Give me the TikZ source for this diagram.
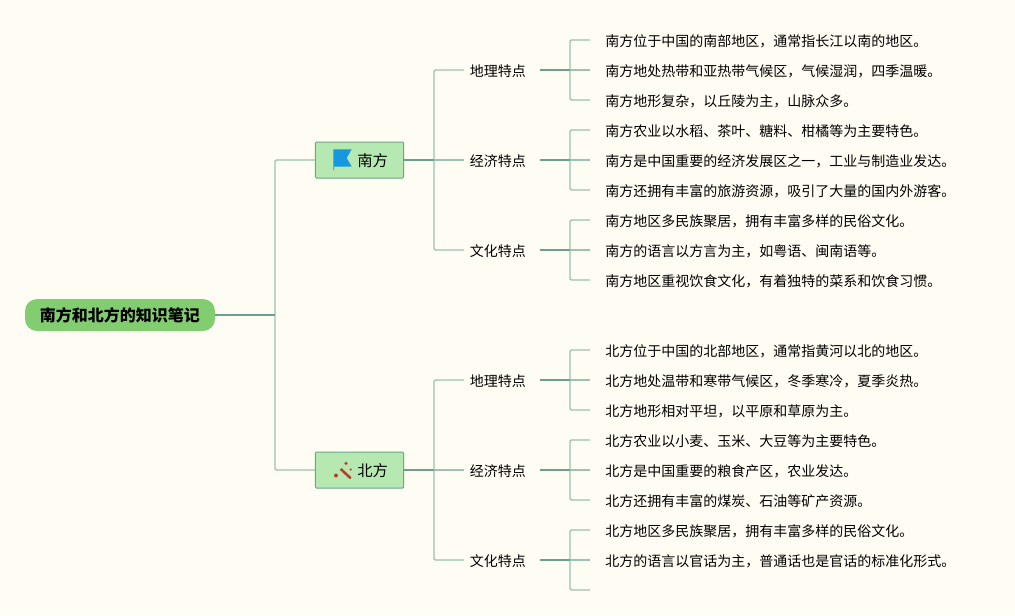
\documentclass[tikz,border=0pt]{standalone}
\usepackage{fontspec}
\setmainfont{Noto Sans CJK SC}
\definecolor{paper}{RGB}{255,253,243}
\definecolor{rootfill}{RGB}{130,205,112}
\definecolor{topicfill}{RGB}{182,232,178}
\definecolor{topicline}{RGB}{104,165,138}
\definecolor{softline}{RGB}{155,196,176}
\definecolor{darkline}{RGB}{108,160,142}
\definecolor{flagblue}{RGB}{22,152,224}
\definecolor{wandred}{RGB}{192,57,36}
\tikzset{
  rootbox/.style={fill=rootfill,rounded corners=9pt,minimum width=142.5pt,minimum height=24pt,inner sep=0pt,text height=11.4pt,text depth=1.4pt,font=\fontsize{12}{14}\selectfont\bfseries},
  topicbox/.style={fill=topicfill,draw=topicline,line width=0.75pt,rounded corners=0.8pt,text width=42.75pt,align=right,inner xsep=11.7pt,minimum height=27pt,inner ysep=0pt,text height=11.6pt,text depth=1.4pt,font=\fontsize{11.5}{14}\selectfont},
  subbox/.style={anchor=west,text width=48pt,align=left,inner xsep=4.2pt,inner ysep=2pt,text height=10.6pt,text depth=1.2pt,font=\fontsize{10.5}{13}\selectfont},
  leafbox/.style={anchor=west,inner xsep=11.25pt,inner ysep=2pt,text height=10.6pt,text depth=1.2pt,font=\fontsize{10.5}{13}\selectfont},
  softlink/.style={draw=softline,line width=1.1pt,rounded corners=1pt},
  darklink/.style={draw=darkline,line width=1.3pt},
}
\begin{document}
\begin{tikzpicture}[x=0.75pt,y=0.75pt,yscale=-1,xscale=1]
\fill[paper] (0,0) rectangle (1015,615);
\useasboundingbox (0,0) rectangle (1015,615);

% Root and topics
\node[rootbox] (root) at (120,315) {南方和北方的知识笔记};
\node[topicbox] (south) at (359.5,160) {南方};
\node[topicbox] (north) at (359.5,470) {北方};

% South, sub topics
\node[subbox] (sgeo) at (464,70) {地理特点};
\node[subbox] (seco) at (464,160) {经济特点};
\node[subbox] (scul) at (464,250) {文化特点};
% North, sub topics
\node[subbox] (ngeo) at (464,380) {地理特点};
\node[subbox] (neco) at (464,470) {经济特点};
\node[subbox] (ncul) at (464,560) {文化特点};

% South, leaves
\node[leafbox] (sa) at (590,40) {南方位于中国的南部地区，通常指长江以南的地区。};
\node[leafbox] (sb) at (590,70) {南方地处热带和亚热带气候区，气候湿润，四季温暖。};
\node[leafbox] (sc) at (590,100) {南方地形复杂，以丘陵为主，山脉众多。};
\node[leafbox] (sd) at (590,130) {南方农业以水稻、茶叶、糖料、柑橘等为主要特色。};
\node[leafbox] (se) at (590,160) {南方是中国重要的经济发展区之一，工业与制造业发达。};
\node[leafbox] (sf) at (590,190) {南方还拥有丰富的旅游资源，吸引了大量的国内外游客。};
\node[leafbox] (sg) at (590,220) {南方地区多民族聚居，拥有丰富多样的民俗文化。};
\node[leafbox] (sh) at (590,250) {南方的语言以方言为主，如粤语、闽南语等。};
\node[leafbox] (si) at (590,280) {南方地区重视饮食文化，有着独特的菜系和饮食习惯。};
% North, leaves
\node[leafbox] (na) at (590,350) {北方位于中国的北部地区，通常指黄河以北的地区。};
\node[leafbox] (nb) at (590,380) {北方地处温带和寒带气候区，冬季寒冷，夏季炎热。};
\node[leafbox] (nc) at (590,410) {北方地形相对平坦，以平原和草原为主。};
\node[leafbox] (nd) at (590,440) {北方农业以小麦、玉米、大豆等为主要特色。};
\node[leafbox] (ne) at (590,470) {北方是中国重要的粮食产区，农业发达。};
\node[leafbox] (nf) at (590,500) {北方还拥有丰富的煤炭、石油等矿产资源。};
\node[leafbox] (ng) at (590,530) {北方地区多民族聚居，拥有丰富多样的民俗文化。};
\node[leafbox] (nh) at (590,560) {北方的语言以官话为主，普通话也是官话的标准化形式。};
\coordinate (ni) at (590,590);

% Junctions
\coordinate (jroot) at (275,315);
\coordinate (jsouth) at (434,160);
\coordinate (jnorth) at (434,470);
\coordinate (jsgeo) at (570,70);
\coordinate (jseco) at (570,160);
\coordinate (jscul) at (570,250);
\coordinate (jngeo) at (570,380);
\coordinate (jneco) at (570,470);
\coordinate (jncul) at (570,560);

% Soft branches
\draw[softlink] (jroot) |- (south.west);
\draw[softlink] (jroot) |- (north.west);
\draw[softlink] (jsouth) |- (sgeo.west);
\draw[softlink] (jsouth) -- (seco.west);
\draw[softlink] (jsouth) |- (scul.west);
\draw[softlink] (jnorth) |- (ngeo.west);
\draw[softlink] (jnorth) -- (neco.west);
\draw[softlink] (jnorth) |- (ncul.west);
\draw[softlink] (jsgeo) |- (sa.west);
\draw[softlink] (jsgeo) -- (sb.west);
\draw[softlink] (jsgeo) |- (sc.west);
\draw[softlink] (jseco) |- (sd.west);
\draw[softlink] (jseco) -- (se.west);
\draw[softlink] (jseco) |- (sf.west);
\draw[softlink] (jscul) |- (sg.west);
\draw[softlink] (jscul) -- (sh.west);
\draw[softlink] (jscul) |- (si.west);
\draw[softlink] (jngeo) |- (na.west);
\draw[softlink] (jngeo) -- (nb.west);
\draw[softlink] (jngeo) |- (nc.west);
\draw[softlink] (jneco) |- (nd.west);
\draw[softlink] (jneco) -- (ne.west);
\draw[softlink] (jneco) |- (nf.west);
\draw[softlink] (jncul) |- (ng.west);
\draw[softlink] (jncul) -- (nh.west);
\draw[softlink] (jncul) |- (ni);

% Dark stems
\draw[darklink] (root.east) -- (jroot);
\draw[darklink] (south.east) -- (jsouth);
\draw[darklink] (north.east) -- (jnorth);
\draw[darklink] (sgeo.east) -- (jsgeo);
\draw[darklink] (seco.east) -- (jseco);
\draw[darklink] (scul.east) -- (jscul);
\draw[darklink] (ngeo.east) -- (jngeo);
\draw[darklink] (neco.east) -- (jneco);
\draw[darklink] (ncul.east) -- (jncul);

% Flag
\fill[flagblue] (333.3,149.3) -- (351.7,149.3) -- (346.7,158) -- (351.7,166.7) -- (334,166.7) -- (334,170) -- (333.3,170) -- cycle;
% Wand
\draw[wandred,line width=1.9pt] (340.7,469) -- (350.7,478.3);
\fill[wandred] (346,463.3) circle (1.7);
\fill[wandred] (350.7,469.5) circle (1.2);
\fill[wandred] (336,475.5) circle (2);
\end{tikzpicture}
\end{document}
